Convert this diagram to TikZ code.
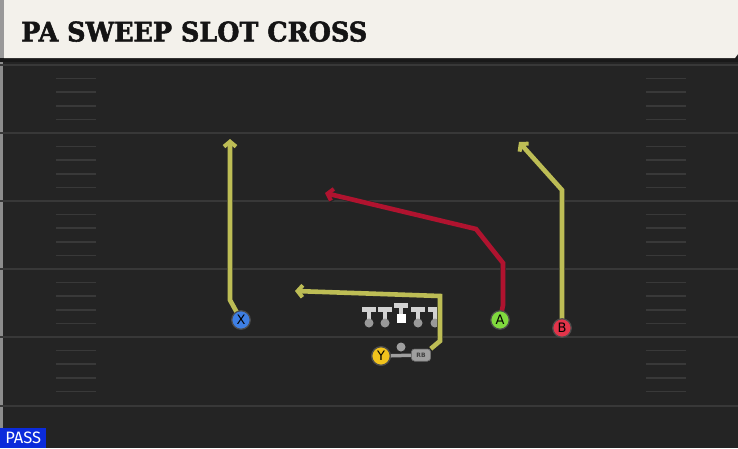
\documentclass[tikz,border=0pt]{standalone}
\usepackage{fontspec}
\setsansfont{DejaVu Sans}
\newfontfamily\titlefont{DejaVu Serif}[FakeBold=2]
\newfontfamily\tagfont{Fira Sans}
\usetikzlibrary{arrows.meta}
\definecolor{fieldbg}{HTML}{242424}
\definecolor{yardln}{HTML}{383838}
\definecolor{hashln}{HTML}{393939}
\definecolor{titlebg}{HTML}{F3F1EB}
\definecolor{rteyel}{HTML}{BDBD55}
\definecolor{rtered}{HTML}{B0132F}
\definecolor{plblue}{HTML}{3E7FE4}
\definecolor{plgreen}{HTML}{80DA3E}
\definecolor{plred}{HTML}{E2344A}
\definecolor{plyel}{HTML}{F1C31D}
\definecolor{linegray}{HTML}{D2D2D2}
\definecolor{passblue}{HTML}{0B2BDB}
\tikzset{
	rte/.style={line width=4.6pt,line join=miter,-{Straight Barb[length=5pt,width=12pt,line width=4pt]},
		preaction={draw=black!85,line width=5.8pt,-{Straight Barb[length=5.4pt,width=13.5pt,line width=5.2pt]}}},
	plr/.style={circle,draw=black!70,line width=1.2pt,inner sep=0pt,minimum size=18.5pt,font=\sffamily\fontsize{13}{13}\selectfont},
	rbbox/.style={rectangle,rounded corners=3pt,fill=gray!75,draw=black!60,line width=0.5pt,inner sep=0pt,minimum width=19pt,minimum height=12pt,font=\sffamily\bfseries\fontsize{6}{6}\selectfont,text=black!75}
}
\begin{document}
\begin{tikzpicture}[x=1pt,y=-1pt]
	\useasboundingbox (0,0) rectangle (738,448);
	\fill[fieldbg] (0,0) rectangle (738,448);
	\fill[black!45] (0,58) rectangle (3,448);
	
	% yard lines and hashes
	\foreach \yl in {65,133,201,269,337,406}
		\draw[yardln,line width=2pt] (0,\yl) -- (738,\yl);
	\foreach \yl in {65,133,201,269,337}{
		\foreach \k in {1,...,4}{
			\draw[hashln,line width=1.6pt] (56,\yl+\k*13.6) -- (96,\yl+\k*13.6);
			\draw[hashln,line width=1.6pt] (646,\yl+\k*13.6) -- (686,\yl+\k*13.6);
		}
	}
	
	% title bar
	\fill[black!90] (0,56) rectangle (738,62);
	\fill[titlebg] (4,0) -- (738,0) -- (738,54) -- (735,58) -- (4,58) -- cycle;
	\fill[black!40] (0,0) rectangle (4,58);
	\node[anchor=south west,inner sep=0pt,text=black!92] (title) at (21,42)
		{\resizebox{346pt}{20pt}{\titlefont\bfseries PA SWEEP SLOT CROSS}};
	
	% line
	\foreach \x in {369,385,418,435}{
		\fill[linegray] (\x-7,307) rectangle (\x+7,312);
		\fill[linegray] (\x-2,310) rectangle (\x+2,321);
		\fill[gray!80] (\x,323) circle (4.5pt);
	}
	\fill[linegray] (394,303) rectangle (408,308);
	\fill[linegray] (399,306) rectangle (403,315);
	\fill[white] (396.5,314) rectangle (405.5,323);
	\fill[gray!75] (401,347) circle (4.5pt);
	
	% players
	\node[plr,fill=plyel] (y) at (381,356) {Y};
	\node[rbbox] (rb) at (421,355) {RB};
	\draw[gray!75,line width=3.5pt] (y) -- (rb);
	\node[plr,fill=plyel] at (y) {Y};
	
	% route points
	\coordinate (xbend) at (230,300);
	\coordinate (xend) at (230,139);
	\coordinate (abend1) at (503,263);
	\coordinate (abend2) at (476,229);
	\coordinate (aend) at (325,193);
	\coordinate (bbend) at (562,190);
	\coordinate (bend) at (519,142);
	\coordinate (ybend1) at (440,341);
	\coordinate (ybend2) at (440,296);
	\coordinate (yend) at (295,291);
	
	% routes
	\draw[rte,draw=rteyel] (241,320) -- (xbend) -- (xend);
	\draw[rte,draw=rtered] (500,320) -- (503,305) -- (abend1) -- (abend2) -- (aend);
	\draw[rte,draw=rteyel] (562,328) -- (bbend) -- (bend);
	\draw[rte,draw=rteyel] (rb.north east) -- (ybend1) -- (ybend2) -- (yend);
	\node[plr,fill=plblue] (x) at (241,320) {X};
	\node[plr,fill=plgreen] (a) at (500,320) {A};
	\node[plr,fill=plred] (b) at (562,328) {B};
	\node[rbbox] at (rb) {RB};
	
	% play type
	\node[fill=passblue,text=white,anchor=south west,inner sep=0pt,minimum width=46pt,minimum height=20pt,font=\tagfont\fontsize{16.5}{16.5}\selectfont] (pass) at (0,448) {PASS};
\end{tikzpicture}
\end{document}
